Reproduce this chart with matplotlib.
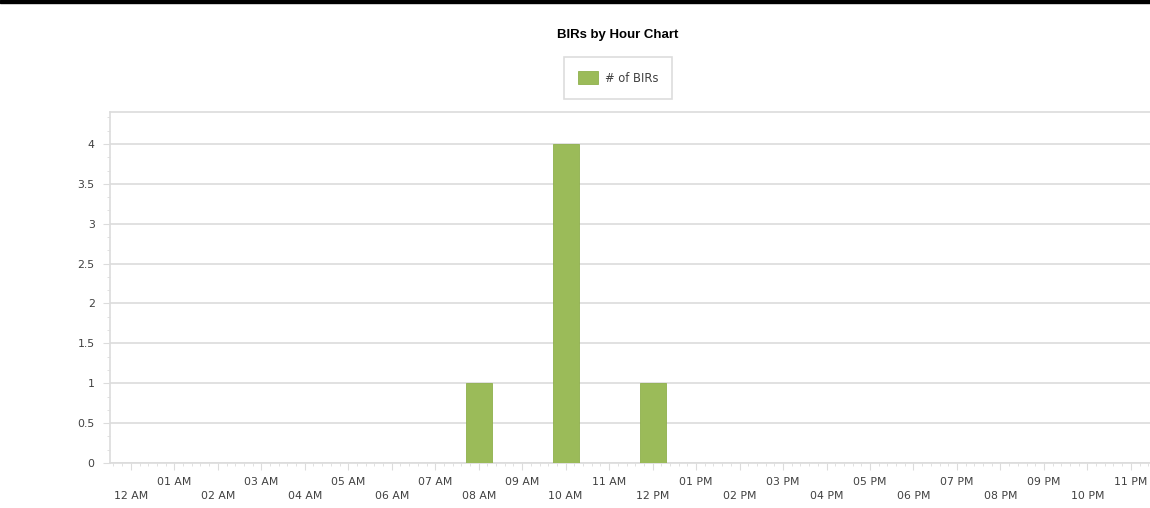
import numpy as np
import matplotlib.pyplot as plt
from matplotlib.ticker import MultipleLocator, AutoMinorLocator

hours = ["12 AM", "01 AM", "02 AM", "03 AM", "04 AM", "05 AM", "06 AM", "07 AM",
         "08 AM", "09 AM", "10 AM", "11 AM", "12 PM", "01 PM", "02 PM", "03 PM",
         "04 PM", "05 PM", "06 PM", "07 PM", "08 PM", "09 PM", "10 PM", "11 PM"]
bir_hours = ["08 AM", "10 AM", "12 PM"]
bir_counts = [1, 4, 1]
y_labels = ["0", "0.5", "1", "1.5", "2", "2.5", "3", "3.5", "4"]

green = "#9bbb59"
grid_col = "#dcdcdc"
txt_col = "#404040"

fig = plt.figure(figsize=(11.5, 5.08), dpi=100)
fig.patches.append(plt.Rectangle((0, 1 - 3 / 508), 1, 3 / 508, transform=fig.transFigure,
                                 color="black", zorder=10))
ax = fig.add_axes([110 / 1150, 1 - 463 / 508, 1 - 110 / 1150, 351 / 508])

pos = [hours.index(h) for h in bir_hours]
ax.bar(pos, bir_counts, width=0.6, color=green, edgecolor="#8fb04c", linewidth=0.6,
       label="# of BIRs", zorder=3)

ax.set_xlim(-0.48, 23.44)
ax.set_ylim(0, 4.4)
ax.set_yticks(np.arange(0, 4.01, 0.5))
ax.set_yticklabels(y_labels)
ax.yaxis.set_minor_locator(AutoMinorLocator(3))
ax.grid(axis="y", color=grid_col, linewidth=1.2, zorder=0)

ax.set_xticks(range(len(hours)))
ax.set_xticklabels([h if i % 2 else "\n" + h for i, h in enumerate(hours)], linespacing=1.55)
ax.xaxis.set_minor_locator(AutoMinorLocator(5))

for s in ["left", "bottom", "top"]:
    ax.spines[s].set_color(grid_col)
    ax.spines[s].set_linewidth(1.2)
ax.spines["right"].set_visible(False)

ax.tick_params(axis="both", which="both", colors=grid_col, labelcolor=txt_col, labelsize=7.8)
ax.tick_params(axis="x", which="major", length=5, pad=5)
ax.tick_params(axis="x", which="minor", length=2.5)
ax.tick_params(axis="y", which="major", length=5, pad=6)
ax.tick_params(axis="y", which="minor", length=2.5)

fig.text(618 / 1150, 1 - 35 / 508, "BIRs by Hour Chart", ha="center", va="center",
         fontsize=9.5, fontweight="bold", family="Liberation Sans")
leg = ax.legend(loc="center", bbox_to_anchor=(618 / 1150, 1 - 78 / 508),
                bbox_transform=fig.transFigure, fontsize=8.3, frameon=True, fancybox=False,
                handlelength=1.7, handleheight=1.3, borderpad=1.25, handletextpad=0.6)
leg.get_frame().set_edgecolor("#d4d4d4")
leg.get_frame().set_linewidth(1.2)
for t in leg.get_texts():
    t.set_color(txt_col)

plt.savefig("out.png", dpi=100)
